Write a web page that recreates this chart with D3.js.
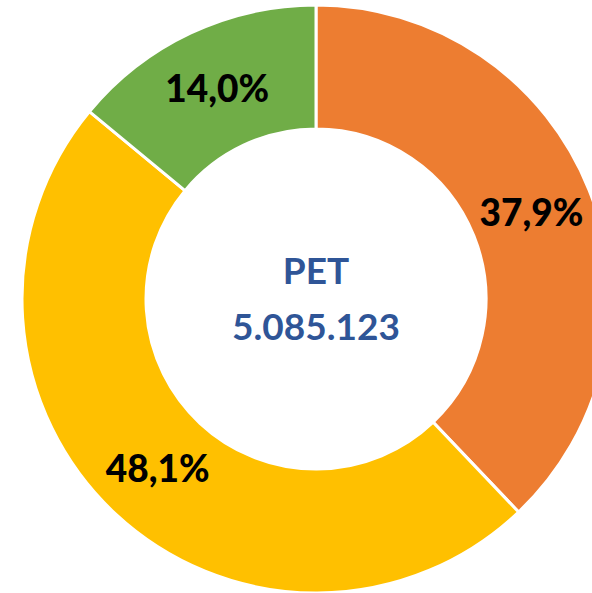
<!DOCTYPE html>
<html>
<head>
<meta charset="utf-8">
<script src="https://cdn.jsdelivr.net/npm/d3@7"></script>
<style>
  html, body { margin: 0; padding: 0; background: #fff; }
  svg { display: block; }
</style>
</head>
<body>
<svg></svg>
<script>
let width = 592,
  height = 593;

// Chart data
let categories = ["Orange", "Amarillo", "Verde"];
let values = [37.9, 48.1, 14.0];
let labels = ["37,9%", "48,1%", "14,0%"];
let colors = ["#ED7D31", "#FFC000", "#70AD47"];
let centerTitle = "PET";
let centerValue = "5.085.123";

let svg = d3.select("svg").attr("width", width).attr("height", height);

let cx = 316,
  cy = 299,
  outerR = 294,
  innerR = 170;

let pie = d3.pie().sort(null).value((d) => d.value);
let arc = d3.arc().innerRadius(innerR).outerRadius(outerR);

let data = categories.map((c, i) => ({ name: c, value: values[i], label: labels[i], color: colors[i] }));

let g = svg.append("g").attr("transform", "translate(" + cx + "," + cy + ")");

let slices = g.selectAll("g.slice").data(pie(data)).enter().append("g").attr("class", "slice");

slices
  .append("path")
  .attr("d", arc)
  .attr("fill", (d) => d.data.color)
  .attr("stroke", "#fff")
  .attr("stroke-width", 3);

slices
  .append("text")
  .attr("transform", (d) => "translate(" + arc.centroid(d) + ")")
  .attr("text-anchor", "middle")
  .attr("dy", "0.36em")
  .style("font-family", "Lato, 'Open Sans', sans-serif")
  .style("font-weight", "900")
  .style("font-size", "37px")
  .attr("fill", "#000")
  .text((d) => d.data.label);

// Center text
g.append("text")
  .attr("text-anchor", "middle")
  .attr("y", -15)
  .style("font-family", "Lato, 'Open Sans', sans-serif")
  .style("font-weight", "bold")
  .style("font-size", "37px")
  .attr("fill", "#2F5597")
  .text(centerTitle);

g.append("text")
  .attr("text-anchor", "middle")
  .attr("y", 41)
  .style("font-family", "Lato, 'Open Sans', sans-serif")
  .style("font-weight", "bold")
  .style("font-size", "37px")
  .attr("fill", "#2F5597")
  .text(centerValue);
</script>
</body>
</html>
